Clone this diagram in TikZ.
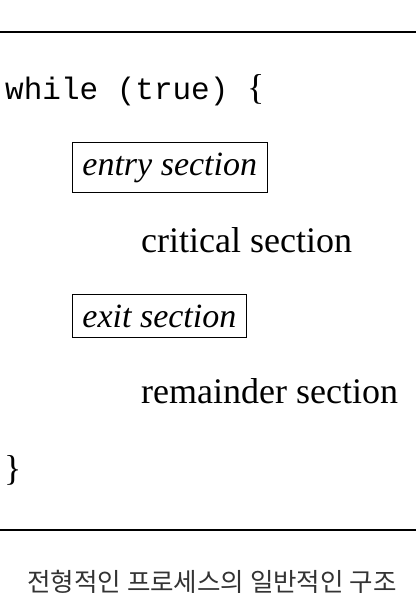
\documentclass[tikz,border=0pt]{standalone}
\usepackage{fontspec}
\setmainfont{Liberation Serif}
\setmonofont{Liberation Mono}
\newfontfamily\krfont{Noto Sans CJK KR}
\definecolor{captiongray}{HTML}{333333}
\tikzset{
  rule/.style={line width=2pt, black},
  codetext/.style={anchor=base west, inner sep=0pt, font=\fontsize{31}{36}\selectfont\ttfamily},
  plaintext/.style={anchor=base west, inner sep=0pt, font=\fontsize{36}{42}\selectfont},
  boxtext/.style={anchor=base west, draw, line width=0.9pt, inner xsep=10pt, inner ysep=10pt, font=\fontsize{34}{40}\selectfont\itshape},
  captiontext/.style={anchor=base, inner sep=0pt, text=captiongray, font=\fontsize{25.5}{30}\selectfont\krfont}
}
\begin{document}
\begin{tikzpicture}[x=1pt, y=-1pt]
  \useasboundingbox (0,0) rectangle (416,610);
  \coordinate (tl) at (0,32);
  \coordinate (tr) at (416,32);
  \coordinate (bl) at (0,530);
  \coordinate (br) at (416,530);
  \draw[rule] (tl) -- (tr);
  \draw[rule] (bl) -- (br);
  \node[codetext] (while) at (5,99) {while (true) \normalfont\fontsize{36}{42}\selectfont\{};
  \node[boxtext] (entry) at (72,175) {entry section};
  \node[plaintext] (crit) at (141,252) {critical section};
  \node[boxtext] (exit) at (72,327) {exit section};
  \node[plaintext] (rem) at (141,403) {remainder section};
  \node[plaintext] (close) at (4,480) {\}};
  \node[captiontext] (cap) at (212,591) {전형적인 프로세스의 일반적인 구조};
\end{tikzpicture}
\end{document}
